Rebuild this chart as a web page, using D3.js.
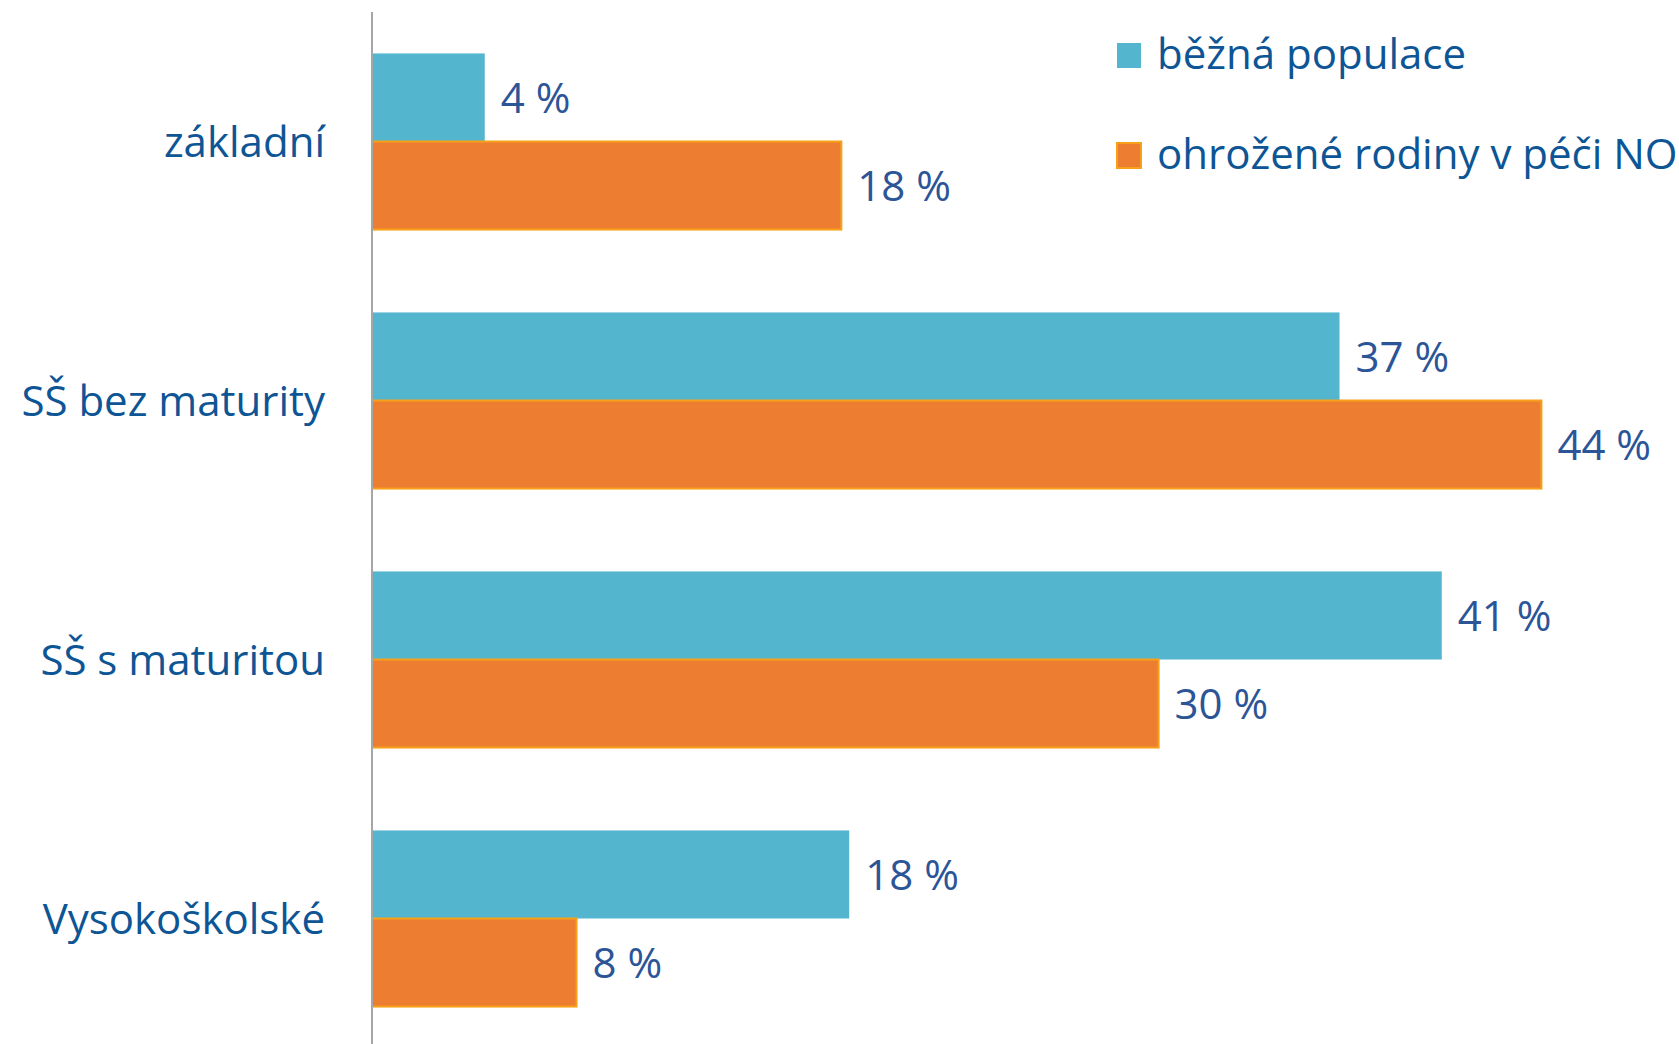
<!DOCTYPE html>
<html>
<head>
<meta charset="utf-8">
<script src="https://cdn.jsdelivr.net/npm/d3@7"></script>
<style>
  html, body { margin: 0; padding: 0; background: #ffffff; }
  svg { display: block; }
  text { font-family: "Open Sans", "Noto Sans", sans-serif; }
</style>
</head>
<body>
<svg id="chart" width="1679" height="1044"></svg>
<script>
const categories = ["základní", "SŠ bez maturity", "SŠ s maturitou", "Vysokoškolské"];
const seriesNames = ["běžná populace", "ohrožené rodiny v péči NO"];
const populaceValues = [4.3, 36.9, 40.8, 18.2];
const ohrozeneValues = [17.9, 44.6, 30.0, 7.8];
const labelPopulace = ["4 %", "37 %", "41 %", "18 %"];
const labelOhrozene = ["18 %", "44 %", "30 %", "8 %"];

const colors = ["#54b5cf", "#ed7d31"];
const strokes = [null, "#f7a11a"];

const svg = d3.select("#chart");
const x0 = 372;
const x = d3.scaleLinear().domain([0, 1]).range([x0, x0 + 26.22]);
const y = d3.scaleBand().domain(categories).range([12, 1048]).paddingInner(0.32).paddingOuter(0.16);
const y1 = d3.scaleBand().domain([0, 1]).range([0, y.bandwidth()]);

const data = categories.map((c, i) => ({
  cat: c,
  vals: [
    { s: 0, v: populaceValues[i], label: labelPopulace[i] },
    { s: 1, v: ohrozeneValues[i], label: labelOhrozene[i] }
  ]
}));

const groups = svg.selectAll("g.grp").data(data).join("g")
  .attr("class", "grp")
  .attr("transform", d => `translate(0,${y(d.cat)})`);

groups.selectAll("rect").data(d => d.vals).join("rect")
  .attr("x", x(0))
  .attr("y", d => y1(d.s))
  .attr("width", d => x(d.v) - x(0))
  .attr("height", y1.bandwidth())
  .attr("fill", d => colors[d.s])
  .attr("stroke", d => strokes[d.s] || "none")
  .attr("stroke-width", 2);

groups.selectAll("text.val").data(d => d.vals).join("text")
  .attr("class", "val")
  .attr("x", d => x(d.v) + 16)
  .attr("y", d => y1(d.s) + y1.bandwidth() / 2)
  .attr("dy", "0.37em")
  .attr("font-size", 42)
  .attr("fill", "#2c5597")
  .text(d => d.label);

// category labels
svg.append("g").selectAll("text").data(categories).join("text")
  .attr("x", 325)
  .attr("y", d => y(d) + y.bandwidth() / 2)
  .attr("dy", "0.37em")
  .attr("text-anchor", "end")
  .attr("font-size", 42)
  .attr("fill", "#0d5595")
  .text(d => d);

// axis line
const yAxis = d3.axisLeft(y).tickSize(0).tickFormat("");
svg.append("g").attr("transform", `translate(${x0},0)`).call(yAxis)
  .call(g => g.select(".domain").attr("stroke", "#a6a6a6").attr("stroke-width", 2).attr("d", "M0,12V1048"));

// legend
const legend = svg.append("g").selectAll("g").data(seriesNames).join("g")
  .attr("transform", (d, i) => `translate(1117,${43 + i * 100})`);
legend.append("rect")
  .attr("width", 24).attr("height", 25)
  .attr("fill", (d, i) => colors[i])
  .attr("stroke", (d, i) => strokes[i] || "none")
  .attr("stroke-width", 2);
legend.append("text")
  .attr("x", 40).attr("y", 26)
  .attr("font-size", 42)
  .attr("fill", "#0d5595")
  .text(d => d);
</script>
</body>
</html>
